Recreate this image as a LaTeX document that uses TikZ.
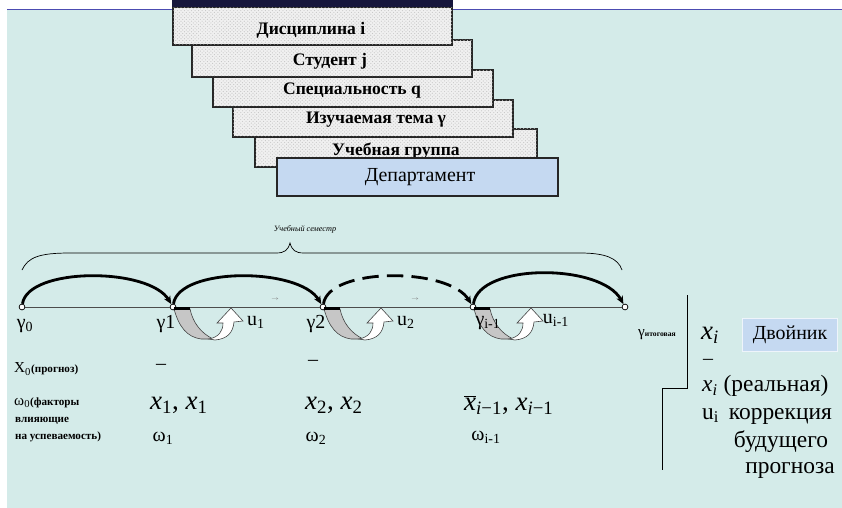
\documentclass[tikz,border=0pt]{standalone}
\usepackage{fontspec}
\setmainfont{Liberation Serif}
\usetikzlibrary{patterns,arrows.meta}

\definecolor{bgcyan}{RGB}{212,235,233}
\definecolor{deptblue}{RGB}{197,217,241}
\definecolor{barnavy}{RGB}{22,22,60}

\tikzset{
  layer/.style={draw=black!85, line width=1.2pt, fill=gray!12,
    postaction={pattern=crosshatch dots, pattern color=gray!45}},
  dept/.style={draw=black!85, line width=1.2pt, fill=deptblue},
  boxtxt/.style={font=\fontsize{15}{16}\selectfont\bfseries, inner sep=0pt},
  tpoint/.style={circle, draw, fill=white, inner sep=0pt, minimum size=5pt, line width=0.6pt},
  jump/.style={line width=2.4pt, -{Stealth[length=7pt,width=6pt]}},
  lbl/.style={font=\fontsize{17}{18}\selectfont, inner sep=0pt},
  big/.style={font=\fontsize{17}{18}\selectfont, inner sep=0pt},
  note/.style={font=\fontsize{20}{21}\selectfont, inner sep=0pt},
  mathx/.style={font=\fontsize{23}{24}\selectfont, inner sep=0pt},
  small/.style={font=\fontsize{13}{14}\selectfont, inner sep=0pt},
  wee/.style={font=\fontsize{9.5}{10}\selectfont\bfseries, inner sep=0pt}
}

% grey band down from a point and the white arrow back up
\newcommand{\fixarrow}[1]{%
  \begin{scope}[shift={(#1)}]
    \filldraw[fill=gray!45, draw=black!75, line width=0.5pt]
      (1,2) .. controls (6,20) and (14,30) .. (28,32) -- (40,32)
      .. controls (28,26) and (20,16) .. (17,2) -- cycle;
    \draw[line width=2pt] (1,1.5) -- (17,1.5);
    \filldraw[fill=white, draw=black!75, line width=0.5pt]
      (36,32) .. controls (46,30) and (50,24) .. (50,16) -- (44,16) -- (58,1)
      -- (70,14) -- (61,15) .. controls (60,26) and (54,32) .. (42,33) -- cycle;
  \end{scope}}

\begin{document}
\begin{tikzpicture}[x=0.03cm,y=-0.03cm]
    \useasboundingbox (0,0) rectangle (842,508);
    \fill[white] (0,0) rectangle (842,508);
    \fill[bgcyan] (7,9) rectangle (842,508);
    \draw[gray!60!blue, line width=0.6pt] (7,9) -- (842,9);

    % stacked boxes, lower ones first
    \draw[layer] (255,129) rectangle (537,167);
    \node[boxtxt] (grp) at (396,151) {Учебная группа};
    \draw[layer] (233,100) rectangle (513,137);
    \node[boxtxt] (topic) at (376,120) {Изучаемая тема γ};
    \draw[layer] (213,70) rectangle (493,107);
    \node[boxtxt] (spec) at (352,91) {Специальность q};
    \draw[layer] (192,40) rectangle (472,77);
    \node[boxtxt] (stud) at (330,61) {Студент j};
    \draw[layer] (173,7) rectangle (452,45);
    \fill[barnavy] (172,0) rectangle (453,7);
    \node[boxtxt] (disc) at (311,30) {Дисциплина i};
    \draw[dept] (277,158) rectangle (558,196);
    \node[big] (dep) at (420,177) {Департамент};

    % semester brace
    \draw[line width=0.6pt] (22,270) .. controls (28,257) and (40,253) .. (70,253) -- (276,253)
      .. controls (285,253) and (288,250) .. (290,243)
      .. controls (292,250) and (295,253) .. (304,253) -- (580,253)
      .. controls (605,253) and (618,258) .. (622,270);
    \node[inner sep=0pt, font=\fontsize{7}{8}\selectfont\itshape] (sem) at (305,229) {Учебный семестр};

    % time line
    \node[tpoint] (g0) at (22,307) {};
    \node[tpoint] (g1) at (173,307) {};
    \node[tpoint] (g2) at (323,307) {};
    \node[tpoint] (gi) at (473,307) {};
    \node[tpoint] (gend) at (625,307) {};
    \draw[gray!60!black, line width=0.6pt] (g0) -- (g1) -- (g2) -- (gi) -- (gend);

    \draw[jump] (g0) .. controls +(6,-40) and +(-24,-40) .. (g1);
    \draw[jump] (g1) .. controls +(6,-40) and +(-24,-40) .. (g2);
    \draw[jump, dashed, dash pattern=on 14pt off 7pt] (g2) .. controls +(6,-40) and +(-24,-40) .. (gi);
    \draw[jump] (gi) .. controls +(6,-44) and +(-24,-44) .. (gend);

    \fixarrow{g1}
    \fixarrow{g2}
    \fixarrow{gi}

    \node[lbl] (lg0) at (25,326) {γ\textsubscript{0}};
    \node[lbl] (lg1) at (166,324) {γ1};
    \node[lbl] (lg2) at (316,324) {γ2};
    \node[lbl] (lgi) at (488,323) {γ\textsubscript{i-1}};
    \node[lbl] (u1) at (256,322) {u\textsubscript{1}};
    \node[lbl] (u2) at (406,322) {u\textsubscript{2}};
    \node[lbl] (ui) at (556,320) {u\textsubscript{i-1}};
    \node[gray] (v1) at (275,299) {$\scriptscriptstyle\rightarrow$};
    \node[gray] (v2) at (415,299) {$\scriptscriptstyle\rightarrow$};
    \node[small, anchor=west] (gfin) at (638,335) {γ{\fontsize{6.5}{7}\selectfont\bfseries итоговая}};

    % left column
    \node[small, anchor=west] (x0) at (14,369) {X\textsubscript{0}{\fontsize{9.5}{10}\selectfont\bfseries(прогноз)}};
    \node[small, anchor=west] (w0) at (14,403) {ω\textsubscript{0}{\fontsize{9.5}{10}\selectfont\bfseries(факторы}};
    \node[wee, anchor=west] (w0b) at (15,421) {влияющие};
    \node[wee, anchor=west] (w0c) at (15,437) {на успеваемость)};

    % values under the points
    \node[lbl] (b1) at (161,367) {–};
    \node[lbl] (b2) at (313,363) {–};
    \node[mathx, anchor=west] (x1) at (150,405) {\textit{x}\textsubscript{1}, \textit{x}\textsubscript{1}};
    \node[mathx, anchor=west] (x2) at (305,405) {\textit{x}\textsubscript{2}, \textit{x}\textsubscript{2}};
    \node[mathx, anchor=west] (xi) at (464,405) {$\overline{\mbox{\textit{x}}}$\textsubscript{\textit{i}−1}, \textit{x}\textsubscript{\textit{i}−1}};
    \node[lbl] (w1) at (163,438) {ω\textsubscript{1}};
    \node[lbl] (w2) at (316,438) {ω\textsubscript{2}};
    \node[lbl] (wi) at (486,437) {ω\textsubscript{i-1}};

    % right bracket and notes
    \draw[line width=0.8pt] (687,295) -- (687,388) -- (662,388) -- (662,470);
    \node[mathx] (xr) at (710,335) {\textit{x}\textsubscript{\textit{i}}};
    \node[big, fill=deptblue, draw=white!70!deptblue, minimum width=2.85cm, minimum height=1cm] (twin) at (790,335) {Двойник};
    \node[lbl] (br) at (708,362) {–};
    \node[note, anchor=west] (real) at (702,386) {\textit{x}\textsubscript{\textit{i}} (реальная)};
    \node[note, anchor=west] (corr) at (702,416) {u\textsubscript{i}\, коррекция};
    \node[note] (fut) at (781,442) {будущего};
    \node[note] (fore) at (790,470) {прогноза};
\end{tikzpicture}
\end{document}
